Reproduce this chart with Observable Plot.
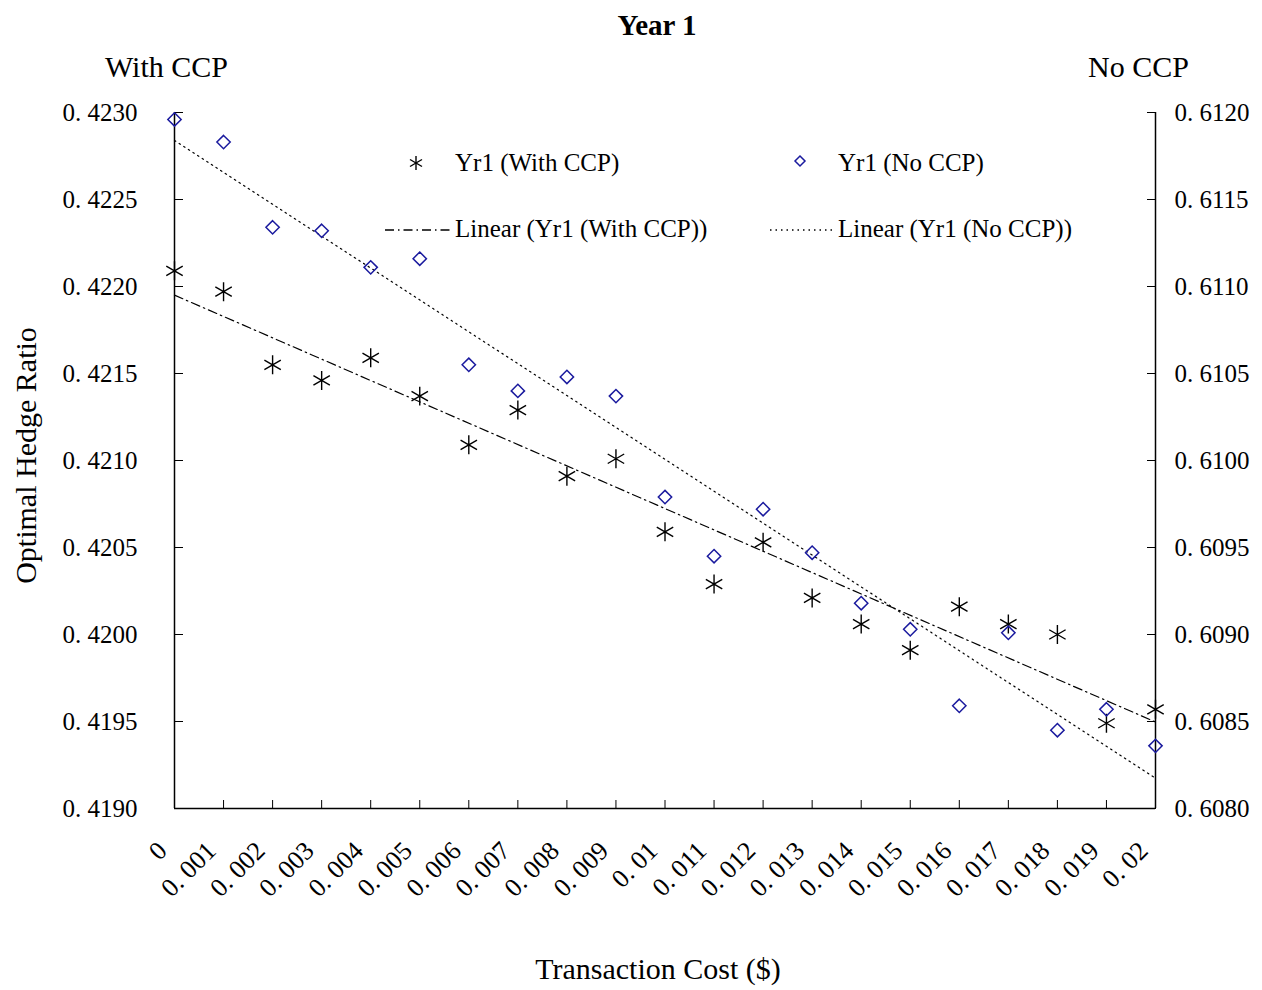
<!DOCTYPE html>
<html>
<head>
<meta charset="utf-8">
<script src="https://cdn.jsdelivr.net/npm/d3@7"></script>
<script src="https://cdn.jsdelivr.net/npm/@observablehq/plot@0.6"></script>
<style>
  body { margin: 0; background: #fff; }
  #wrap { position: relative; width: 1262px; height: 990px; font-family: "Liberation Serif", "Times New Roman", serif; }
  .leg { position: absolute; font-size: 25px; color: #000; white-space: nowrap; line-height: 1; }
  .leg svg { position: absolute; overflow: visible; }
</style>
</head>
<body>
<div id="wrap"></div>
<script>
// ---- data ----
const costs = [0, 0.001, 0.002, 0.003, 0.004, 0.005, 0.006, 0.007, 0.008, 0.009, 0.01,
               0.011, 0.012, 0.013, 0.014, 0.015, 0.016, 0.017, 0.018, 0.019, 0.02];
const withCCP = [0.42209, 0.42197, 0.42155, 0.42146, 0.42159, 0.42137, 0.42109, 0.42129, 0.42091, 0.42101, 0.42059,
                 0.42029, 0.42053, 0.42021, 0.42006, 0.41991, 0.42016, 0.42006, 0.42000, 0.41949, 0.41957];
const noCCP = [0.61196, 0.61183, 0.61134, 0.61132, 0.61111, 0.61116, 0.61055, 0.61040, 0.61048, 0.61037, 0.60979,
               0.60945, 0.60972, 0.60947, 0.60918, 0.60903, 0.60859, 0.60901, 0.60845, 0.60857, 0.60836];
const leftTicks = [0.4190, 0.4195, 0.4200, 0.4205, 0.4210, 0.4215, 0.4220, 0.4225, 0.4230];
const rightTicks = [0.6080, 0.6085, 0.6090, 0.6095, 0.6100, 0.6105, 0.6110, 0.6115, 0.6120];
const leftDomain = [0.4190, 0.4230];
const rightDomain = [0.6080, 0.6120];

// map right-axis values into left-axis units
const toLeft = v => leftDomain[0] + (v - rightDomain[0]) * (leftDomain[1] - leftDomain[0]) / (rightDomain[1] - rightDomain[0]);
const toRight = v => rightDomain[0] + (v - leftDomain[0]) * (rightDomain[1] - rightDomain[0]) / (leftDomain[1] - leftDomain[0]);

const fmt4 = d => "0. " + d.toFixed(4).slice(2);
const fmtX = d => d === 0 ? "0" : "0. " + String(+d.toFixed(3)).slice(2);

const dataWith = costs.map((c, i) => ({cost: c, v: withCCP[i]}));
const dataNo = costs.map((c, i) => ({cost: c, v: toLeft(noCCP[i])}));

const NAVY = "#1a1a9e";
const FONT = "Liberation Serif, Times New Roman, serif";

const chart = Plot.plot({
  width: 1262,
  height: 990,
  marginTop: 112,
  marginBottom: 182,
  marginLeft: 174,
  marginRight: 107,
  style: {fontFamily: FONT, fontSize: "25px", color: "#000", background: "#fff"},
  x: {type: "linear", domain: [0, 0.02]},
  y: {type: "linear", domain: leftDomain},
  marks: [
    Plot.axisY({anchor: "left", ticks: leftTicks, tickFormat: fmt4, tickSize: -9, tickPadding: 46, fontSize: 25, label: null}),
    Plot.axisY({anchor: "right", ticks: rightTicks.map(toLeft), tickFormat: d => fmt4(toRight(d)), tickSize: -9, tickPadding: 28, fontSize: 25, label: null}),
    Plot.axisX({anchor: "bottom", ticks: costs, tickFormat: () => "", tickSize: -8, label: null}),
    Plot.axisX({anchor: "bottom", ticks: costs, tickFormat: fmtX, tickSize: 0, tickRotate: -45, tickPadding: 38, dx: -12, fontSize: 26, label: null}),
    Plot.ruleX([0, 0.02], {stroke: "#000", strokeWidth: 1.5}),
    Plot.ruleY([leftDomain[0]], {stroke: "#000", strokeWidth: 1.5}),
    Plot.linearRegressionY(dataWith, {x: "cost", y: "v", ci: 0, stroke: "#000", strokeWidth: 1.2, strokeDasharray: "9,4,1.5,4"}),
    Plot.linearRegressionY(dataNo, {x: "cost", y: "v", ci: 0, stroke: "#000", strokeWidth: 1.2, strokeDasharray: "1.5,4"}),
    Plot.dot(dataWith, {x: "cost", y: "v", symbol: "asterisk", r: 9, stroke: "#000", strokeWidth: 1.4}),
    Plot.dot(dataNo, {x: "cost", y: "v", symbol: "diamond2", r: 6, stroke: NAVY, strokeWidth: 1.5, fill: "none"}),
    Plot.text(["Year 1"], {frameAnchor: "top", dy: -98, dx: -8, fontSize: 29, fontWeight: "bold"}),
    Plot.text(["With CCP"], {frameAnchor: "top-left", dx: -8, dy: -57, textAnchor: "middle", fontSize: 30}),
    Plot.text(["No CCP"], {frameAnchor: "top-right", dx: -17, dy: -57, textAnchor: "middle", fontSize: 30}),
    Plot.text(["Optimal Hedge Ratio"], {frameAnchor: "left", dx: -148, dy: -5, rotate: -90, textAnchor: "middle", fontSize: 30}),
    Plot.text(["Transaction Cost ($)"], {frameAnchor: "bottom", dx: -7, dy: 170, fontSize: 30})
  ]
});

const wrap = document.getElementById("wrap");
wrap.appendChild(chart);

// legend (overlay)
const legend = [
  {label: "Yr1 (With CCP)", left: 455, top: 163, kind: "star"},
  {label: "Yr1 (No CCP)", left: 838, top: 163, kind: "diamond"},
  {label: "Linear (Yr1 (With CCP))", left: 455, top: 229, kind: "dashdot"},
  {label: "Linear (Yr1 (No CCP))", left: 838, top: 229, kind: "dot"}
];
for (const L of legend) {
  const d = document.createElement("div");
  d.className = "leg";
  d.style.left = L.left + "px";
  d.style.top = (L.top - 13) + "px";
  d.textContent = L.label;
  let sym = "";
  if (L.kind === "star") sym = `<svg width="1" height="1" style="left:-39px;top:13px"><g stroke="#000" stroke-width="1.4"><line x1="0" y1="-7" x2="0" y2="7"/><line x1="-6" y1="-3.5" x2="6" y2="3.5"/><line x1="-6" y1="3.5" x2="6" y2="-3.5"/></g></svg>`;
  if (L.kind === "diamond") sym = `<svg width="1" height="1" style="left:-38px;top:11px"><path d="M0,-5L5,0L0,5L-5,0Z" fill="none" stroke="${NAVY}" stroke-width="1.5"/></svg>`;
  if (L.kind === "dashdot") sym = `<svg width="1" height="1" style="left:-70px;top:14px"><line x1="0" y1="0" x2="66" y2="0" stroke="#000" stroke-width="1.3" stroke-dasharray="9,4,1.5,4"/></svg>`;
  if (L.kind === "dot") sym = `<svg width="1" height="1" style="left:-68px;top:14px"><line x1="0" y1="0" x2="62" y2="0" stroke="#000" stroke-width="1.3" stroke-dasharray="1.5,4"/></svg>`;
  d.insertAdjacentHTML("afterbegin", sym);
  wrap.appendChild(d);
}
</script>
</body>
</html>
